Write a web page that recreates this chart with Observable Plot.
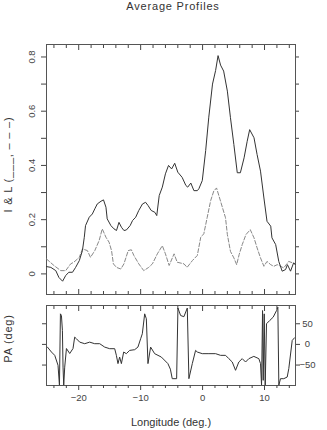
<!DOCTYPE html>
<html><head><meta charset="utf-8">
<script src="https://cdn.jsdelivr.net/npm/d3@7"></script>
<script src="https://cdn.jsdelivr.net/npm/@observablehq/plot@0.6"></script>
<style>
body{margin:0;background:#fff;}
#wrap{position:relative;width:327px;height:430px;font-family:"Liberation Sans",Arial,sans-serif;color:#333;}
#title{position:absolute;top:0px;left:0;width:346px;text-align:center;font-size:11px;letter-spacing:0.8px;color:#333;}
#toppanel{position:absolute;top:40px;left:0;}
#botpanel{position:absolute;top:298px;left:0;}
</style></head><body>
<div id="wrap"><div id="title">Average Profiles</div><div id="toppanel"></div><div id="botpanel"></div></div>
<script>
// Total intensity (solid)
const lonI = [-25.2,-24.5,-23.7,-23.2,-22.6,-22.1,-21.6,-21.0,-20.5,-19.9,-19.4,-19.1,-18.9,-18.3,-17.8,-17.4,-17.0,-16.4,-16.0,-15.6,-15.4,-14.8,-14.3,-13.9,-13.5,-13.1,-12.7,-12.3,-11.7,-11.3,-10.8,-10.3,-9.7,-9.2,-8.8,-8.3,-7.7,-7.4,-7.0,-6.5,-6.0,-5.5,-5.0,-4.5,-4.0,-3.3,-2.7,-2.4,-1.9,-1.4,-0.85,-0.6,-0.05,0.5,1.0,1.6,2.1,2.5,2.9,3.4,4.0,4.5,5.05,5.6,6.1,6.7,7.2,7.6,8.3,8.8,9.35,9.9,10.4,11.0,11.2,11.8,12.3,12.85,13.4,13.7,14.2,14.7,15.0];
const valI = [0.027,0.024,0.012,-0.013,-0.027,-0.006,0.006,0.006,0.024,0.049,0.086,0.135,0.178,0.209,0.221,0.240,0.258,0.268,0.273,0.246,0.203,0.178,0.166,0.160,0.190,0.172,0.160,0.162,0.178,0.197,0.209,0.234,0.258,0.264,0.252,0.234,0.227,0.215,0.289,0.320,0.369,0.400,0.387,0.408,0.375,0.356,0.326,0.320,0.335,0.307,0.307,0.314,0.344,0.455,0.578,0.700,0.750,0.805,0.770,0.748,0.674,0.576,0.477,0.373,0.373,0.428,0.489,0.532,0.502,0.440,0.379,0.280,0.194,0.176,0.133,0.108,0.046,0.010,0.016,0.034,0.010,0.041,0.034];
// Linear polarization (dashed)
const lonL = [-25.2,-24.0,-22.9,-22.1,-21.3,-20.8,-19.9,-19.4,-18.6,-18.1,-17.4,-16.7,-16.2,-15.6,-15.1,-14.7,-14.4,-13.9,-13.2,-12.7,-12.0,-11.5,-11.1,-10.3,-9.5,-8.7,-8.1,-7.3,-6.5,-6.0,-5.4,-4.6,-4.1,-3.0,-2.5,-1.65,-0.85,-0.3,0.2,0.75,1.3,1.8,2.25,2.9,3.7,4.0,4.5,5.05,5.5,5.9,6.4,7.0,7.7,8.3,8.8,9.35,9.9,10.4,11.0,11.5,12.05,12.6,13.1,13.9,14.5,15.0];
const valL = [0.055,0.031,0.012,0.012,0.037,0.043,0.061,0.092,0.086,0.061,0.086,0.123,0.166,0.135,0.117,0.086,0.037,0.024,0.018,0.037,0.086,0.089,0.068,0.037,0.012,0.024,0.037,0.074,0.104,0.074,0.031,0.074,0.043,0.037,0.024,0.049,0.068,0.135,0.148,0.209,0.270,0.305,0.317,0.268,0.207,0.145,0.083,0.059,0.034,0.071,0.108,0.145,0.163,0.133,0.096,0.059,0.028,0.046,0.034,0.028,0.034,0.028,0.022,0.046,0.041,0.034];
// Position angle
const lonPA = [-25.05,-24.4,-23.87,-23.34,-23.11,-22.95,-22.79,-22.63,-22.53,-22.42,-22.26,-21.98,-21.45,-20.92,-20.65,-20.37,-19.84,-19.03,-18.23,-17.42,-16.61,-15.81,-15.0,-14.19,-13.92,-13.66,-13.39,-13.11,-12.74,-12.31,-11.77,-10.97,-10.44,-10.0,-9.73,-9.35,-9.08,-8.82,-8.39,-7.74,-6.66,-5.6,-5.2,-4.9,-4.19,-3.98,-3.55,-3.02,-2.47,-2.21,-1.66,-1.13,-0.85,-0.05,1.02,2.1,2.9,3.71,4.24,4.79,5.32,5.85,6.4,6.94,7.47,8.27,9.08,9.35,9.52,9.68,9.79,9.95,10.11,10.32,10.85,11.4,11.94,12.15,12.31,12.58,13.11,13.66,13.92,14.47,14.84];
const valPA = [-6.5,-18.5,-26.5,-50.6,-99,74,70,34,-55,-99,-55,-10,-22,-10,17.6,13.7,5.5,1.7,5.5,1.7,1.7,-6.5,-10.4,-10.4,-26.5,-46.5,-30.6,-46.5,-18.5,-22.4,-14.5,-12.8,-6.5,13.7,25.8,74,62,-46.5,-6.5,-22.4,-30.6,-46.5,-60,-83,-83,88,70,67,88,-83,-46.5,-14.5,-18.5,-22.4,-22.4,-22.4,-26.5,-26.5,-34.5,-42.6,-62.7,-42.6,-34.5,-42.6,-34.5,-29,-34.5,-46.5,-99,82,-87,74,-99,50,58,66,82,90,-99,-83,-83,-79,-58.5,9.6,16];

const xMajor = [-20,-10,0,10];
const xMinor = [-24,-22,-18,-16,-14,-12,-8,-6,-4,-2,2,4,6,8,12,14];
const yLabelTicks = [0,0.2,0.4,0.6,0.8];
const yAllTicks = [0,0.1,0.2,0.3,0.4,0.5,0.6,0.7,0.8];
const paTicks = [-50,0,50];
const yTitleTop = "I & L (___, – – –)";
const yTitleBot = "PA (deg)";
const xTitle = "Longitude (deg.)";

const dataI = lonI.map((x,i)=>({x, y: valI[i]}));
const dataL = lonL.map((x,i)=>({x, y: valL[i]}));
const dataPA = lonPA.map((x,i)=>({x, y: valPA[i]}));

const ink = "#444";
const font = {fontFamily: '"Liberation Sans", Arial, sans-serif', fontSize: "9.5px", color: ink, background: "transparent", overflow: "visible"};
const xDomain = [-25.2, 15.0];
const blank = () => "";

const topChart = Plot.plot({
  width: 327, height: 258,
  marginLeft: 46, marginRight: 32, marginTop: 4, marginBottom: 4,
  style: font,
  x: {domain: xDomain},
  y: {domain: [-0.076, 0.846]},
  marks: [
    Plot.frame({stroke: "#555"}),
    Plot.axisX(xMinor, {anchor: "top", tickSize: -3, tickFormat: blank, label: null}),
    Plot.axisX(xMajor, {anchor: "top", tickSize: -5, tickFormat: blank, label: null}),
    Plot.axisX(xMinor, {anchor: "bottom", tickSize: -3, tickFormat: blank, label: null}),
    Plot.axisX(xMajor, {anchor: "bottom", tickSize: -5, tickFormat: blank, label: null}),
    Plot.axisY(yAllTicks, {anchor: "left", tickSize: 5, tickFormat: blank, label: null}),
    Plot.axisY(yLabelTicks, {anchor: "left", tickSize: 0, tickPadding: 12, tickRotate: -90, tickFormat: d => d === 0 ? "0" : d.toFixed(1), label: null}),
    Plot.axisY(yAllTicks, {anchor: "right", tickSize: 3, tickFormat: blank, label: null}),
    Plot.line(dataL, {x: "x", y: "y", stroke: "#888", strokeWidth: 1, strokeDasharray: "4,2"}),
    Plot.line(dataI, {x: "x", y: "y", stroke: "#333", strokeWidth: 1}),
    Plot.text([yTitleTop], {frameAnchor: "left", textAnchor: "middle", lineAnchor: "middle", dx: -38, dy: -5, rotate: -90, fontSize: 11, fill: "#333"})
  ]
});
document.getElementById("toppanel").appendChild(topChart);

const botChart = Plot.plot({
  width: 327, height: 132,
  marginLeft: 46, marginRight: 32, marginTop: 7, marginBottom: 45,
  style: font,
  x: {domain: xDomain},
  y: {domain: [-99.5, 94.2]},
  marks: [
    Plot.frame({stroke: "#555"}),
    Plot.axisX(xMinor, {anchor: "top", tickSize: -3, tickFormat: blank, label: null}),
    Plot.axisX(xMajor, {anchor: "top", tickSize: -5, tickFormat: blank, label: null}),
    Plot.axisX(xMinor, {anchor: "bottom", tickSize: 3, tickFormat: blank, label: null}),
    Plot.axisX(xMajor, {anchor: "bottom", tickSize: 5, tickPadding: 4, label: null}),
    Plot.axisY(paTicks, {anchor: "left", tickSize: 4, tickFormat: blank, label: null}),
    Plot.axisY(paTicks, {anchor: "right", tickSize: 4, tickPadding: 8, textAnchor: "middle", label: null}),
    Plot.line(dataPA, {x: "x", y: "y", stroke: "#333", strokeWidth: 1, clip: true}),
    Plot.text([yTitleBot], {frameAnchor: "left", textAnchor: "middle", lineAnchor: "middle", dx: -38, dy: -7, rotate: -90, fontSize: 11, fill: "#333"}),
    Plot.text([xTitle], {frameAnchor: "bottom", textAnchor: "middle", lineAnchor: "middle", dy: 37, fontSize: 11, fill: "#333"})
  ]
});
document.getElementById("botpanel").appendChild(botChart);

// wider letter spacing on the rotated axis titles, as in the reference
d3.select(topChart).selectAll('g[aria-label="text"] text').style("letter-spacing", "0.8px");
d3.select(botChart).selectAll('g[aria-label="text"] text').filter(function(){ return this.textContent === yTitleBot; }).style("letter-spacing", "0.8px");
</script>
</body></html>
